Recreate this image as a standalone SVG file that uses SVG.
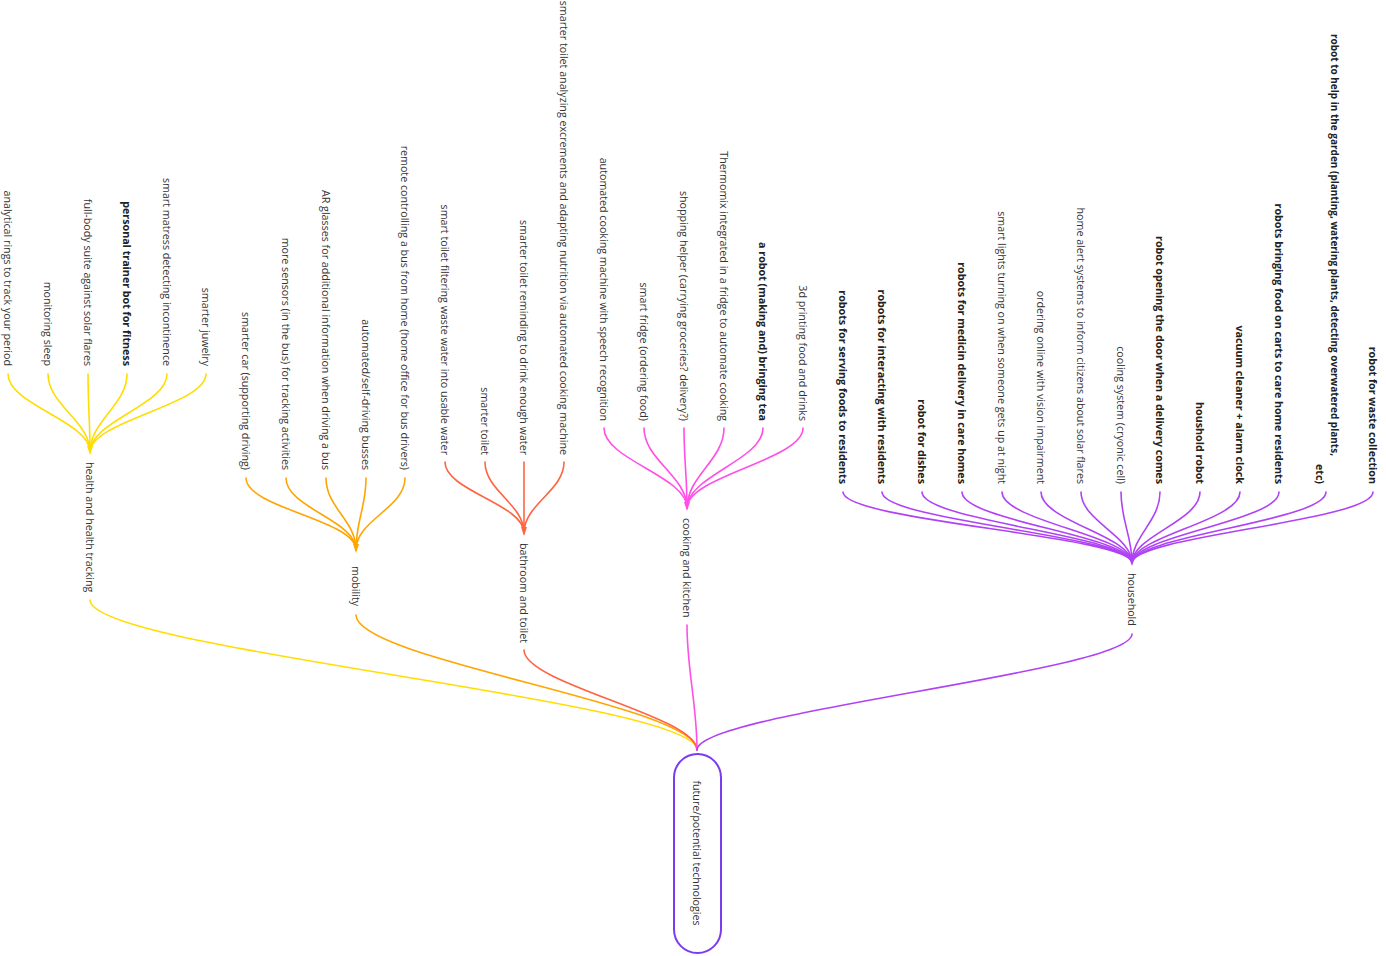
<svg xmlns="http://www.w3.org/2000/svg" width="1386" height="956" viewBox="0 0 1386 956">
<style>
text{font-family:"Open Sans","Liberation Sans",sans-serif;font-size:10.7px;fill:#333;dominant-baseline:central}
.leaf{text-anchor:end}
.b{font-weight:bold;fill:#222}
.tight{font-size:10px}
.cat{text-anchor:start}
.root{text-anchor:middle}
path{fill:none;stroke-width:1.6;stroke-linecap:round}
.y{stroke:#FFDD00}.o{stroke:#FFA500}.r{stroke:#FF6442}.m{stroke:#FF4FE6}.p{stroke:#B042F5}
.ty{fill:#FFDD00}.to{fill:#FFA500}.tr{fill:#FF6442}.tm{fill:#FF4FE6}.tp{fill:#B042F5}
</style>
<g id="connectors">
<path class="y" d="M90 600 C90 650 697 700 697 750"/>
<path class="o" d="M356 615 C356 660 697 705 697 750"/>
<path class="r" d="M524 650 C524 684 697 716 697 750"/>
<path class="m" d="M687 625 C687 670 697 705 697 750"/>
<path class="p" d="M1132 634 C1132 672 697 712 697 750"/>
<path class="y" d="M8 374 C8 405 90 421 90 452"/>
<path class="y" d="M48 374 C48 405 90 421 90 452"/>
<path class="y" d="M88 374 C88 405 90 421 90 452"/>
<path class="y" d="M127 374 C127 405 90 421 90 452"/>
<path class="y" d="M167 374 C167 405 90 421 90 452"/>
<path class="y" d="M206 374 C206 405 90 421 90 452"/>
<path class="o" d="M246 478 C246 508 356 520 356 550"/>
<path class="o" d="M286 478 C286 508 356 520 356 550"/>
<path class="o" d="M326 478 C326 508 356 520 356 550"/>
<path class="o" d="M366 478 C366 508 356 520 356 550"/>
<path class="o" d="M405 478 C405 508 356 520 356 550"/>
<path class="r" d="M445 462 C445 491 524 504 524 533"/>
<path class="r" d="M485 462 C485 491 524 504 524 533"/>
<path class="r" d="M524 462 L524 533"/>
<path class="r" d="M564 462 C564 491 524 504 524 533"/>
<path class="m" d="M604 428 C604 460 687 476 687 508"/>
<path class="m" d="M644 428 C644 460 687 476 687 508"/>
<path class="m" d="M684 428 C684 460 687 476 687 508"/>
<path class="m" d="M724 428 C724 460 687 476 687 508"/>
<path class="m" d="M763 428 C763 460 687 476 687 508"/>
<path class="m" d="M803 428 C803 460 687 476 687 508"/>
<path class="p" d="M843 492 C843 521 1132 536 1132 563"/>
<path class="p" d="M882 492 C882 521 1132 536 1132 563"/>
<path class="p" d="M922 492 C922 521 1132 536 1132 563"/>
<path class="p" d="M962 492 C962 521 1132 536 1132 563"/>
<path class="p" d="M1002 492 C1002 521 1132 536 1132 563"/>
<path class="p" d="M1041 492 C1041 521 1132 536 1132 563"/>
<path class="p" d="M1081 492 C1081 521 1132 536 1132 563"/>
<path class="p" d="M1121 492 C1121 521 1132 536 1132 563"/>
<path class="p" d="M1160 492 C1160 521 1132 536 1132 563"/>
<path class="p" d="M1200 492 C1200 521 1132 536 1132 563"/>
<path class="p" d="M1240 492 C1240 521 1132 536 1132 563"/>
<path class="p" d="M1279 492 C1279 521 1132 536 1132 563"/>
<path class="p" d="M1326 492 C1326 521 1132 536 1132 563"/>
<path class="p" d="M1373 492 C1373 521 1132 536 1132 563"/>
<polygon class="ty" points="87,446 93,446 90,455"/>
<polygon class="to" points="353,544 359,544 356,553"/>
<polygon class="tr" points="521,527 527,527 524,536"/>
<polygon class="tm" points="684,502 690,502 687,511"/>
<polygon class="tp" points="1129,557 1135,557 1132,566"/>
</g>
<g id="root">
<rect x="674" y="754" width="47" height="199" rx="23.5" fill="#fff" stroke="#7B3CF0" stroke-width="2"/>
<text class="root" transform="translate(697,853) rotate(90)">future/potential technologies</text>
</g>
<g id="health">
<text class="cat" transform="translate(90,462) rotate(90)">health and health tracking</text>
<text class="leaf" transform="translate(8,366) rotate(90)">analytical rings to track your period</text>
<text class="leaf" transform="translate(48,366) rotate(90)">monitoring sleep</text>
<text class="leaf" transform="translate(88,366) rotate(90)">full-body suite against solar flares</text>
<text class="leaf b" transform="translate(127,366) rotate(90)">personal trainer bot for fitness</text>
<text class="leaf" transform="translate(167,366) rotate(90)">smart matress detecting incontinence</text>
<text class="leaf" transform="translate(206,366) rotate(90)">smarter juwelry</text>
</g>
<g id="mobility">
<text class="cat" transform="translate(356,566) rotate(90)">mobility</text>
<text class="leaf" transform="translate(246,470) rotate(90)">smarter car (supporting driving)</text>
<text class="leaf" transform="translate(286,470) rotate(90)">more sensors (in the bus) for tracking activities</text>
<text class="leaf" transform="translate(326,470) rotate(90)">AR glasses for additional information when driving a bus</text>
<text class="leaf" transform="translate(366,470) rotate(90)">automated/self-driving busses</text>
<text class="leaf" transform="translate(405,470) rotate(90)">remote controlling a bus from home (home office for bus drivers)</text>
</g>
<g id="bathroom">
<text class="cat" transform="translate(524,543) rotate(90)">bathroom and toilet</text>
<text class="leaf" transform="translate(445,455) rotate(90)">smart toilet filtering waste water into usable water</text>
<text class="leaf" transform="translate(485,455) rotate(90)">smarter toilet</text>
<text class="leaf" transform="translate(524,455) rotate(90)">smarter toilet reminding to drink enough water</text>
<text class="leaf" transform="translate(564,455) rotate(90)">smarter toilet analyzing excrements and adapting nutrition via automated cooking machine</text>
</g>
<g id="cooking">
<text class="cat" transform="translate(687,518) rotate(90)">cooking and kitchen</text>
<text class="leaf" transform="translate(604,421) rotate(90)">automated cooking machine with speech recognition</text>
<text class="leaf" transform="translate(644,421) rotate(90)">smart fridge (ordering food)</text>
<text class="leaf" transform="translate(684,421) rotate(90)">shopping helper (carrying groceries? delivery?)</text>
<text class="leaf" transform="translate(724,421) rotate(90)">Thermomix integrated in a fridge to automate cooking</text>
<text class="leaf b" transform="translate(763,421) rotate(90)">a robot (making and) bringing tea</text>
<text class="leaf" transform="translate(803,421) rotate(90)">3d printing food and drinks</text>
</g>
<g id="household">
<text class="cat" transform="translate(1132,573) rotate(90)">household</text>
<text class="leaf b" transform="translate(843,484) rotate(90)">robots for serving foods to residents</text>
<text class="leaf b" transform="translate(882,484) rotate(90)">robots for interacting with residents</text>
<text class="leaf b" transform="translate(922,484) rotate(90)">robot for dishes</text>
<text class="leaf b" transform="translate(962,484) rotate(90)">robots for medicin delivery in care homes</text>
<text class="leaf" transform="translate(1002,484) rotate(90)">smart lights turning on when someone gets up at night</text>
<text class="leaf" transform="translate(1041,484) rotate(90)">ordering online with vision impairment</text>
<text class="leaf" transform="translate(1081,484) rotate(90)">home alert systems to inform citizens about solar flares</text>
<text class="leaf" transform="translate(1121,484) rotate(90)">cooling system (cryonic cell)</text>
<text class="leaf b" transform="translate(1160,484) rotate(90)">robot opening the door when a delivery comes</text>
<text class="leaf b" transform="translate(1200,484) rotate(90)">houshold robot</text>
<text class="leaf b" transform="translate(1240,484) rotate(90)">vacuum cleaner + alarm clock</text>
<text class="leaf b" transform="translate(1279,484) rotate(90)">robots bringing food on carts to care home residents</text>
<text class="leaf b tight" transform="translate(1335,456) rotate(90)">robot to help in the garden (planting, watering plants, detecting overwatered plants,</text>
<text class="leaf b" transform="translate(1320,484) rotate(90)">etc)</text>
<text class="leaf b" transform="translate(1373,484) rotate(90)">robot for waste collection</text>
</g>
</svg>
